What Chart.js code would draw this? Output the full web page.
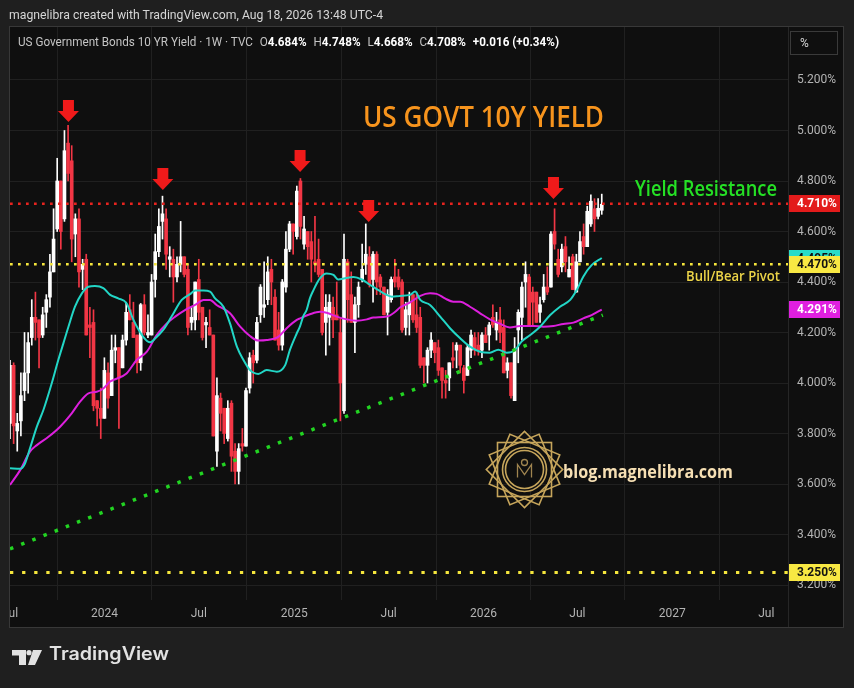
<!DOCTYPE html>
<html>
<head>
<meta charset="utf-8">
<title>US Government Bonds 10 YR Yield</title>
<script src="https://cdn.jsdelivr.net/npm/chart.js@4.4.1/dist/chart.umd.min.js"></script>
<style>
html,body{margin:0;padding:0;background:#1f1f1f;overflow:hidden;}
#wrap{position:relative;width:854px;height:688px;overflow:hidden;}
#c{position:absolute;left:0;top:0;}
.t{position:absolute;white-space:nowrap;line-height:1;margin:0;transform-origin:0 0;}
#hdr{font-family:Roboto,sans-serif;color:#d6d6d6;}
#leg{font-family:Roboto,sans-serif;color:#c4c4c4;}
#leg .v{color:#ffffff;font-weight:bold;}
#leg .g{margin-left:7px;}
#pct{position:absolute;left:790px;top:31px;width:48px;height:24px;border:1px solid #3a3a3a;box-sizing:border-box;font:12px Roboto,sans-serif;color:#d6d6d6;line-height:22px;padding-left:9px;}
#ttl{font-family:"Open Sans",sans-serif;color:#f7941d;font-weight:600;}
#res{font-family:"Open Sans",sans-serif;color:#25e025;font-weight:600;}
#piv{font-family:"Open Sans",sans-serif;color:#ecd448;font-weight:600;}
#blog{font-family:"Open Sans",sans-serif;color:#f6dfb3;font-weight:700;}
#tv{font-family:Inter,sans-serif;color:#e2e2e2;font-weight:600;}
</style>
</head>
<body>
<div id="wrap">
<canvas id="c" width="854" height="688"></canvas>
<div class="t" id="hdr">magnelibra created with TradingView.com, Aug 18, 2026 13:48 UTC-4</div>
<div class="t" id="leg"></div>
<div id="pct">%</div>
<div class="t" id="ttl">US GOVT 10Y YIELD</div>
<div class="t" id="res">Yield Resistance</div>
<div class="t" id="piv">Bull/Bear Pivot</div>
<div class="t" id="blog">blog.magnelibra.com</div>
<div class="t" id="tv">TradingView</div>
</div>
<script>
// ===== DATA (weekly candles, index 0 = week of Jul 3, 2023) =====
const opens = [3.84,4.07,3.81,3.85,3.97,4.04,4.18,4.26,4.25,4.19,
4.28,4.34,4.44,4.61,4.80,4.65,4.95,4.88,4.59,4.65,
4.45,4.49,4.23,4.24,3.93,3.90,3.86,4.04,3.95,4.13,
4.14,4.06,4.17,4.29,4.24,4.19,4.08,4.31,4.19,4.19,
4.41,4.52,4.64,4.65,4.49,4.49,4.42,4.47,4.50,4.45,
4.24,4.25,4.41,4.30,4.23,4.22,4.19,3.73,3.94,3.90,
3.78,3.92,3.73,3.65,3.76,3.75,3.98,4.11,4.09,4.27,
4.30,4.33,4.45,4.34,4.21,4.15,4.38,4.53,4.63,4.58,
4.80,4.55,4.60,4.56,4.48,4.49,4.45,4.24,4.26,4.30,
4.27,4.20,3.89,4.48,4.35,4.24,4.31,4.41,4.47,4.50,
4.41,4.51,4.42,4.38,4.28,4.33,4.42,4.42,4.40,4.22,
4.27,4.35,4.27,4.26,4.10,4.07,4.13,4.16,4.14,4.06,
4.01,4.02,4.10,4.13,4.15,4.06,4.03,4.13,4.18,4.15,
4.13,4.19,4.19,4.26,4.21,4.25,4.22,4.05,4.08,3.93,
4.21,4.26,4.40,4.42,4.36,4.36,4.28,4.33,4.38,4.38,
4.60,4.49,4.46,4.54,4.42,4.50,4.36,4.48,4.58,4.54,
4.63,4.69,4.66,4.684];
const highs = [4.09,4.08,3.88,4.04,4.20,4.20,4.33,4.36,4.25,4.30,
4.35,4.51,4.69,4.89,4.80,5.00,5.02,4.94,4.67,4.69,
4.49,4.51,4.30,4.29,3.93,3.98,4.10,4.08,4.19,4.19,
4.14,4.19,4.32,4.35,4.32,4.19,4.315,4.35,4.27,4.43,
4.59,4.69,4.74,4.69,4.54,4.53,4.50,4.64,4.50,4.47,
4.30,4.40,4.49,4.30,4.26,4.29,4.19,4.02,3.96,3.90,
3.93,3.93,3.76,3.76,3.82,3.98,4.12,4.13,4.26,4.39,
4.48,4.50,4.49,4.37,4.28,4.41,4.60,4.64,4.63,4.78,
4.81,4.66,4.60,4.60,4.66,4.57,4.45,4.35,4.35,4.34,
4.40,4.26,4.59,4.49,4.44,4.34,4.40,4.55,4.63,4.54,
4.52,4.52,4.43,4.38,4.37,4.42,4.49,4.45,4.41,4.32,
4.36,4.35,4.36,4.30,4.10,4.14,4.20,4.16,4.17,4.06,
4.05,4.08,4.16,4.16,4.15,4.07,4.15,4.21,4.20,4.20,
4.20,4.22,4.24,4.31,4.28,4.30,4.25,4.10,4.08,4.18,
4.29,4.40,4.48,4.43,4.38,4.36,4.34,4.43,4.46,4.60,
4.69,4.53,4.55,4.58,4.50,4.51,4.51,4.60,4.63,4.70,
4.745,4.73,4.73,4.748];
const lows = [3.78,3.76,3.73,3.79,3.93,3.96,4.15,4.17,4.06,4.18,
4.22,4.30,4.44,4.60,4.53,4.64,4.80,4.48,4.50,4.38,
4.37,4.19,4.10,3.89,3.83,3.78,3.86,3.90,3.95,4.08,
3.82,4.06,4.15,4.25,4.18,4.04,4.05,4.19,4.18,4.19,
4.34,4.50,4.57,4.45,4.42,4.32,4.40,4.44,4.42,4.19,
4.21,4.21,4.25,4.17,4.14,4.19,3.79,3.67,3.81,3.76,
3.77,3.65,3.60,3.60,3.73,3.75,3.96,4.00,4.08,4.24,
4.26,4.31,4.31,4.17,4.13,4.13,4.36,4.52,4.51,4.57,
4.57,4.53,4.49,4.40,4.44,4.42,4.19,4.11,4.15,4.18,
4.25,3.85,3.88,4.24,4.24,4.12,4.26,4.40,4.43,4.38,
4.32,4.35,4.35,4.27,4.19,4.32,4.38,4.37,4.20,4.19,
4.19,4.24,4.20,4.06,4.00,4.00,4.10,4.08,4.03,3.94,
3.94,3.97,4.06,4.06,4.04,3.96,4.03,4.10,4.11,4.11,
4.10,4.16,4.13,4.22,4.17,4.16,4.04,4.02,3.94,3.93,
4.08,4.17,4.30,4.23,4.23,4.24,4.24,4.32,4.35,4.38,
4.53,4.42,4.44,4.44,4.42,4.37,4.36,4.48,4.51,4.54,
4.62,4.60,4.65,4.668];
const closes = [4.07,3.83,3.84,3.95,4.04,4.16,4.26,4.24,4.18,4.27,
4.33,4.44,4.57,4.80,4.60,4.92,4.83,4.57,4.65,4.44,
4.47,4.19,4.22,3.91,3.90,3.86,4.05,3.94,4.13,4.14,
4.02,4.17,4.28,4.25,4.18,4.08,4.31,4.20,4.20,4.40,
4.52,4.62,4.67,4.51,4.50,4.42,4.47,4.50,4.43,4.22,
4.26,4.40,4.28,4.18,4.24,4.19,3.79,3.95,3.88,3.80,
3.90,3.71,3.65,3.74,3.75,3.97,4.10,4.08,4.24,4.38,
4.31,4.44,4.40,4.17,4.15,4.40,4.53,4.63,4.60,4.76,
4.62,4.61,4.54,4.49,4.47,4.43,4.20,4.30,4.32,4.25,
4.25,4.00,4.49,4.33,4.24,4.31,4.38,4.45,4.51,4.39,
4.51,4.40,4.38,4.27,4.35,4.41,4.40,4.38,4.21,4.29,
4.32,4.25,4.22,4.07,4.07,4.13,4.17,4.12,4.05,4.01,
4.00,4.08,4.09,4.15,4.07,4.01,4.14,4.19,4.13,4.13,
4.19,4.16,4.23,4.23,4.24,4.20,4.04,4.08,3.95,4.13,
4.28,4.38,4.43,4.23,4.32,4.24,4.31,4.38,4.36,4.59,
4.55,4.43,4.53,4.48,4.45,4.37,4.48,4.56,4.54,4.68,
4.72,4.65,4.692,4.708];

// moving average lines (at week positions)
const cyanX = [0,2.8,4.1,5.5,7.4,9.2,11.5,13.3,14.7,16.1,17.9,19.8,21.6,23.4,25.7,27.5,29.8,32.1,34,36.7,38.6,39.9,42.2,44.5,47.3,49.6,51,53.3,55.1,56.5,58.8,60.6,62.5,64.3,66.1,68.4,70.7,73.5,75.8,77.1,79,79.9,80.8,81.7,82.6,83.6,85.4,87.2,89.1,90.4,92.3,94.6,96.9,99.2,101.5,103.3,105.2,107.4,110.2,111.6,113,115.7,118.5,121.2,124,126.7,129.5,132.2,134.5,136.8,139.1,140.9,143.3,146,148.8,151.5,154.3,156.1,157.9,160.2,163];
const cyanY = [3.662,3.66,3.68,3.741,3.827,3.893,3.999,4.091,4.157,4.223,4.302,4.355,4.381,4.384,4.376,4.35,4.335,4.316,4.25,4.183,4.161,4.175,4.21,4.263,4.329,4.352,4.366,4.366,4.362,4.335,4.302,4.236,4.144,4.091,4.051,4.036,4.051,4.045,4.071,4.131,4.197,4.225,4.265,4.289,4.335,4.368,4.415,4.434,4.428,4.41,4.415,4.42,4.41,4.388,4.368,4.352,4.342,4.345,4.349,4.362,4.329,4.309,4.263,4.217,4.177,4.144,4.124,4.12,4.132,4.12,4.131,4.164,4.19,4.223,4.269,4.302,4.329,4.368,4.421,4.467,4.495];
const magX = [0,2.8,5.5,7.4,10.6,13.8,17,19.3,21.6,23.9,25.7,27.5,28.5,32.1,34.9,37.7,40.4,43.2,45.5,48.2,51,53.3,55.1,56.9,60.6,63.4,66.1,68.4,70.7,73.9,76.2,79,79.9,82.6,85.4,87.2,90,92.8,95.5,98.3,100.1,103.8,106.1,107.4,110.2,113,115.7,117.5,119.8,122.1,124,126.7,129.5,132.2,134.9,137.7,140.5,144.2,146.9,149.7,152.4,155.2,157.9,160.2,163];
const magY = [3.596,3.655,3.728,3.754,3.787,3.827,3.88,3.926,3.959,3.965,3.978,4.005,4.012,4.038,4.091,4.124,4.19,4.236,4.263,4.289,4.309,4.329,4.329,4.309,4.276,4.223,4.186,4.168,4.17,4.183,4.217,4.25,4.256,4.272,4.282,4.278,4.263,4.252,4.247,4.252,4.259,4.263,4.282,4.299,4.319,4.345,4.355,4.353,4.335,4.322,4.322,4.302,4.276,4.252,4.235,4.22,4.226,4.226,4.223,4.226,4.234,4.239,4.256,4.269,4.291];

// horizontal levels: resistance, bull/bear pivot, support
const levels = [4.71, 4.47, 3.25];
// rising trend line (two anchor points)
const trendX = [0, 163.3];
const trendY = [3.343, 4.269];
// arrows marking the peaks
const arrowX = [16.1, 42.1, 79.9, 98.8, 149.7];
const arrowTip = [5.034, 4.764, 4.836, 4.638, 4.729];

// axis ticks
const xTickPos = [0, 26, 52, 78.3, 104.3, 130.4, 156.3, 182.4, 208.3];
const xTickLabels = ['Jul','2024','Jul','2025','Jul','2026','Jul','2027','Jul'];
const yTicks = [3.2,3.4,3.6,3.8,4.0,4.2,4.4,4.6,4.8,5.0,5.2];

// ===== BUILD =====
Chart.defaults.font.family = 'Roboto, sans-serif';
const UP = '#ffffff', DOWN = '#f23645';
const idx = opens.map((_, i) => i);
const candleColors = idx.map(i => closes[i] >= opens[i] ? UP : DOWN);
const X_MIN = 0, X_MAX = 214.3;
const Y_MIN = 3.1406, Y_MAX = 5.4099;

const hLine = (v, color, dash, w) => ({
  type: 'line', data: [{x: X_MIN, y: v}, {x: X_MAX, y: v}], borderColor: color,
  borderWidth: w, borderDash: dash, borderCapStyle: 'butt', pointRadius: 0, order: 1
});

const pane = {
  id: 'pane',
  beforeDraw(chart) {
    const c = chart.ctx; c.save();
    c.fillStyle = '#1f1f1f'; c.fillRect(0, 0, 854, 688);
    c.fillStyle = '#0f0f0f'; c.fillRect(10, 27, 833, 600);
    c.restore();
  },
  afterDraw(chart) {
    const c = chart.ctx, xs = chart.scales.x, ys = chart.scales.y;
    c.save();
    c.fillStyle = '#1f1f1f'; c.fillRect(0, 27, 10, 601);
    c.strokeStyle = '#262626'; c.lineWidth = 1;
    c.beginPath(); c.moveTo(788.5, 27); c.lineTo(788.5, 627); c.stroke();
    c.strokeStyle = '#383838';
    c.strokeRect(9.5, 26.5, 834, 601);

    // arrows
    c.fillStyle = '#f01a1a';
    arrowX.forEach((a, k) => {
      const x = xs.getPixelForValue(a), y = ys.getPixelForValue(arrowTip[k]);
      c.beginPath();
      c.moveTo(x - 5.5, y - 22); c.lineTo(x + 5.5, y - 22); c.lineTo(x + 5.5, y - 11);
      c.lineTo(x + 10.5, y - 11); c.lineTo(x, y); c.lineTo(x - 10.5, y - 11);
      c.lineTo(x - 5.5, y - 11); c.closePath(); c.fill();
    });

    // price tags on the right axis
    const tags = [
      {v: cyanY[cyanY.length - 1], bg: '#29dcc9', fg: '#111111'},
      {v: levels[1], bg: '#f8e843', fg: '#111111'},
      {v: levels[0], bg: '#e31b1b', fg: '#ffffff'},
      {v: magY[magY.length - 1], bg: '#e01fe0', fg: '#ffffff'},
      {v: levels[2], bg: '#f8e843', fg: '#111111'}
    ];
    c.font = 'bold 12px Roboto, sans-serif';
    c.textBaseline = 'middle'; c.textAlign = 'left';
    tags.forEach(t => {
      const y = ys.getPixelForValue(t.v);
      c.fillStyle = t.bg; c.fillRect(789, Math.round(y - 8.5), 51, 17);
      c.fillStyle = t.fg; c.fillText(t.v.toFixed(3) + '%', 797, y + 0.5);
    });

    // magnelibra emblem
    const cx = 524.5, cy = 469.5;
    c.strokeStyle = '#c6a55b'; c.lineWidth = 1.6;
    [0, 22.5, 45, 67.5].forEach(a => {
      c.save(); c.translate(cx, cy); c.rotate(a * Math.PI / 180);
      c.strokeRect(-27, -27, 54, 54); c.restore();
    });
    c.fillStyle = '#0f0f0f';
    c.beginPath(); c.arc(cx, cy, 22, 0, 2 * Math.PI); c.fill();
    c.beginPath(); c.arc(cx, cy, 22, 0, 2 * Math.PI); c.stroke();
    c.beginPath(); c.arc(cx, cy, 19, 0, 2 * Math.PI); c.stroke();
    c.strokeStyle = '#a08550'; c.lineWidth = 1.3;
    c.beginPath();
    c.moveTo(cx - 7, cy + 8); c.lineTo(cx - 7, cy - 5); c.lineTo(cx, cy + 5);
    c.lineTo(cx + 7, cy - 5); c.lineTo(cx + 7, cy + 8); c.stroke();
    c.beginPath(); c.arc(cx, cy - 7, 3, 0, 2 * Math.PI); c.stroke();

    // TradingView icon
    c.fillStyle = '#e2e2e2';
    c.fillRect(12, 650, 14, 5.5); c.fillRect(19, 650, 7, 15);
    c.beginPath(); c.arc(29, 652.7, 2.6, 0, 2 * Math.PI); c.fill();
    c.beginPath(); c.moveTo(33, 650); c.lineTo(42, 650); c.lineTo(35, 665); c.lineTo(28, 665); c.closePath(); c.fill();
    c.restore();
  }
};

new Chart(document.getElementById('c'), {
  type: 'bar',
  data: {
    datasets: [
      {type: 'line', label: 'Trend', data: trendX.map((x, k) => ({x, y: trendY[k]})),
       borderColor: '#22d422', borderWidth: 3.5, borderDash: [3.5, 8.5], borderCapStyle: 'butt', pointRadius: 0, order: 0},
      hLine(levels[0], '#e8231f', [2.7, 5.3], 2.5),
      hLine(levels[1], '#f5e63c', [2.7, 5.3], 2.5),
      hLine(levels[2], '#f5e63c', [3.3, 8.8], 3),
      {type: 'line', label: 'MA fast', data: cyanX.map((x, k) => ({x, y: cyanY[k]})),
       borderColor: '#22d6c6', borderWidth: 2, pointRadius: 0, cubicInterpolationMode: 'monotone', order: 2},
      {type: 'line', label: 'MA slow', data: magX.map((x, k) => ({x, y: magY[k]})),
       borderColor: '#dd1fdd', borderWidth: 2, pointRadius: 0, cubicInterpolationMode: 'monotone', order: 3},
      {type: 'bar', label: 'Wicks', data: idx.map(i => ({x: i, y: [lows[i], highs[i]]})),
       backgroundColor: candleColors, barThickness: 1, grouped: false, minBarLength: 1, order: 5},
      {type: 'bar', label: 'Bodies', data: idx.map(i => ({x: i, y: [opens[i], closes[i]]})),
       backgroundColor: candleColors, barThickness: 3, grouped: false, minBarLength: 1, order: 4}
    ]
  },
  options: {
    responsive: false, animation: false, events: [],
    layout: {padding: {left: 10, right: 11, top: 27, bottom: 61}},
    plugins: {legend: {display: false}, tooltip: {enabled: false}},
    scales: {
      x: {
        type: 'linear', min: X_MIN, max: X_MAX, offset: false,
        afterBuildTicks: s => { s.ticks = xTickPos.map(v => ({value: v})); },
        afterFit: s => { s.height = 27; s.paddingLeft = 0; s.paddingRight = 0; },
        grid: {color: '#202020', drawTicks: false},
        border: {display: false},
        ticks: {autoSkip: false, maxRotation: 0, padding: 7, color: '#b4b4b4', font: {size: 12},
                callback: (v, i) => xTickLabels[i]}
      },
      y: {
        position: 'right', min: Y_MIN, max: Y_MAX,
        afterBuildTicks: s => { s.ticks = yTicks.map(v => ({value: v})); },
        afterFit: s => { s.width = 55; s.paddingTop = 0; s.paddingBottom = 0; },
        grid: {color: '#202020', drawTicks: false},
        border: {display: false},
        ticks: {padding: 9, color: '#b4b4b4', font: {size: 12}, callback: v => Number(v).toFixed(3) + '%'}
      }
    }
  },
  plugins: [pane]
});

// ===== legend text from the last candle =====
const L = closes.length - 1;
const chg = closes[L] - closes[L - 1];
const pc = chg / closes[L - 1] * 100;
const sg = n => (n >= 0 ? '+' : '') + n;
document.getElementById('leg').innerHTML =
  'US Government Bonds 10 YR Yield · 1W · TVC' +
  '<span class="g">O</span><span class="v">' + opens[L].toFixed(3) + '%</span>' +
  '<span class="g">H</span><span class="v">' + highs[L].toFixed(3) + '%</span>' +
  '<span class="g">L</span><span class="v">' + lows[L].toFixed(3) + '%</span>' +
  '<span class="g">C</span><span class="v">' + closes[L].toFixed(3) + '%</span>' +
  '<span class="g v">' + sg(chg.toFixed(3)) + ' (' + sg(pc.toFixed(2)) + '%)</span>';

// ===== place overlay texts (left, baseline, ascent ratio, size, width) =====
function place(id, left, baseline, ratio, size, width) {
  const el = document.getElementById(id);
  el.style.fontSize = size + 'px';
  el.style.left = left + 'px';
  el.style.top = (baseline - ratio * size) + 'px';
  const w = el.getBoundingClientRect().width;
  if (w > 0) el.style.transform = 'scaleX(' + (width / w) + ')';
}
place('hdr', 9, 19, 0.8415, 12, 374);
place('leg', 18, 46, 0.8415, 12, 541);
place('ttl', 363, 127, 0.888, 29, 241);
place('res', 635, 196, 0.888, 22, 142);
place('piv', 686, 281, 0.888, 15, 94);
place('blog', 563, 478, 0.888, 17, 170);
place('tv', 49, 661, 0.864, 18, 120);
</script>
</body>
</html>
